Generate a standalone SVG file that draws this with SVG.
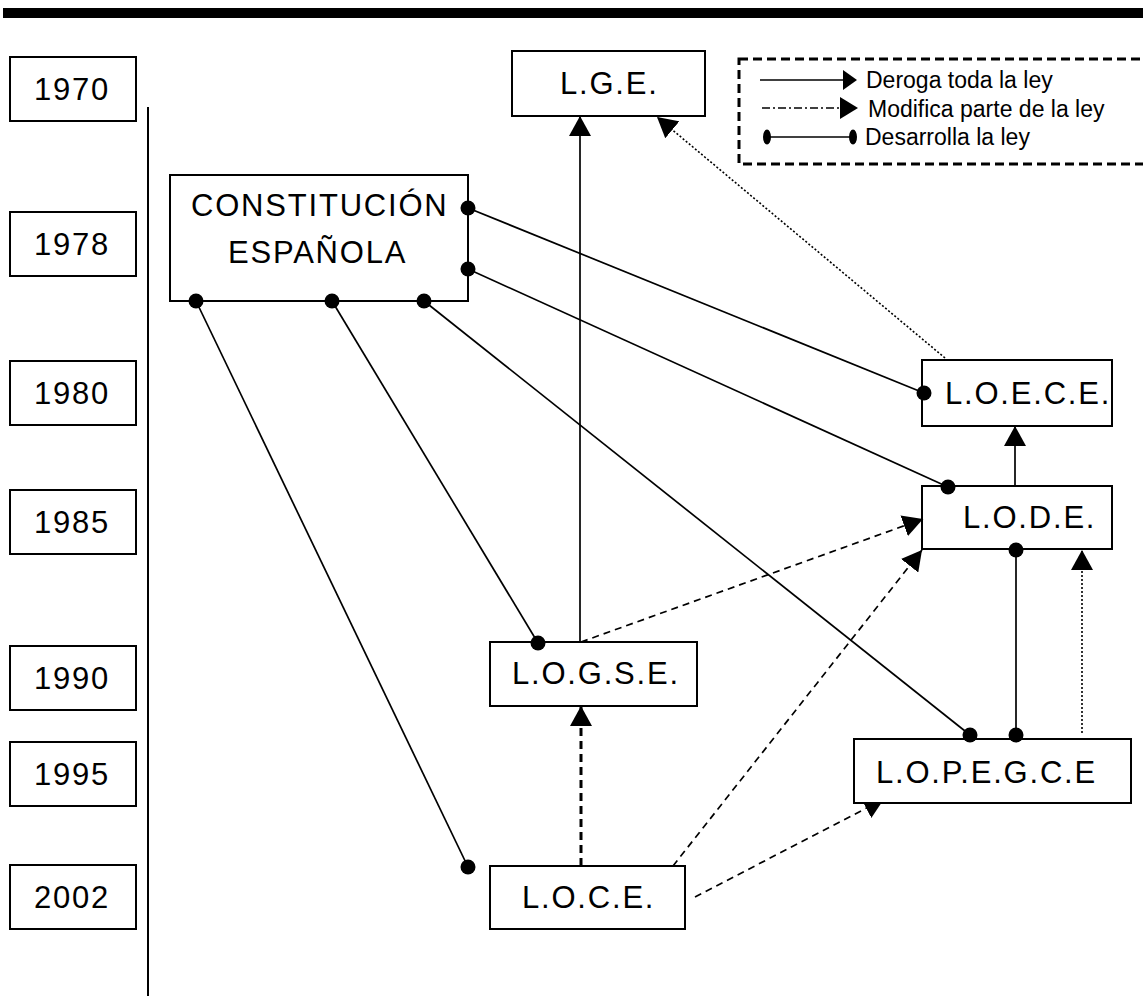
<svg xmlns="http://www.w3.org/2000/svg" width="1143" height="996" viewBox="0 0 1143 996">
<style>
.box{fill:#fff;stroke:#000;stroke-width:2}
.t{font-family:"Liberation Sans",Arial,sans-serif;font-size:31px;letter-spacing:1.8px;fill:#000}
.lg{font-family:"Liberation Sans",Arial,sans-serif;font-size:23px;fill:#000}
.c{fill:none;stroke:#000;stroke-width:1.7}
.dash{stroke-dasharray:7 5}
.dot{stroke-dasharray:2 2;stroke-width:1.6}
.thick{stroke-width:3;stroke-dasharray:8 5}
</style>
<defs>
<marker id="arr" markerUnits="userSpaceOnUse" markerWidth="22" markerHeight="22" refX="20" refY="11" orient="auto" viewBox="0 0 22 22">
<path d="M0,0 L20,11 L0,22 Z" fill="#000" stroke="none"/>
</marker>
<marker id="bul" markerUnits="userSpaceOnUse" markerWidth="16" markerHeight="16" refX="8" refY="8" viewBox="0 0 16 16">
<circle cx="8" cy="8" r="7.5" fill="#000" stroke="none"/>
</marker>
<clipPath id="noLopegce" clipPathUnits="userSpaceOnUse">
<path clip-rule="evenodd" d="M0,0H1143V996H0Z M854,739H1131V803H854Z"/>
</clipPath>
</defs>
<rect x="3" y="8" width="1140" height="10" fill="#000"/>
<line x1="148" y1="107" x2="148" y2="996" stroke="#000" stroke-width="2"/>
<g id="y1970"><rect class="box" x="10" y="57" width="126" height="64"/><text class="t" x="34" y="100">1970</text></g>
<g id="y1978"><rect class="box" x="10" y="212" width="126" height="64"/><text class="t" x="34" y="255">1978</text></g>
<g id="y1980"><rect class="box" x="10" y="361" width="126" height="64"/><text class="t" x="34" y="404">1980</text></g>
<g id="y1985"><rect class="box" x="10" y="490" width="126" height="64"/><text class="t" x="34" y="533">1985</text></g>
<g id="y1990"><rect class="box" x="10" y="646" width="126" height="64"/><text class="t" x="34" y="689">1990</text></g>
<g id="y1995"><rect class="box" x="10" y="742" width="126" height="64"/><text class="t" x="34" y="785">1995</text></g>
<g id="y2002"><rect class="box" x="10" y="865" width="126" height="64"/><text class="t" x="34" y="908">2002</text></g>
<g id="lge"><rect class="box" x="512" y="51" width="193" height="65"/><text class="t" x="560" y="94">L.G.E.</text></g>
<g id="ce"><rect class="box" x="170" y="175" width="298" height="126"/><text class="t" x="191" y="216">CONSTITUCIÓN</text><text class="t" x="228" y="263">ESPAÑOLA</text></g>
<g id="loece"><rect class="box" x="922" y="360" width="190" height="66"/><text class="t" x="945" y="404">L.O.E.C.E.</text></g>
<g id="lode"><rect class="box" x="922" y="486" width="190" height="63"/><text class="t" x="963" y="528">L.O.D.E.</text></g>
<g id="logse"><rect class="box" x="490" y="642" width="207" height="64"/><text class="t" x="512" y="684">L.O.G.S.E.</text></g>
<g id="lopegce"><rect class="box" x="854" y="739" width="277" height="64"/><text class="t" x="876" y="783">L.O.P.E.G.C.E</text></g>
<g id="loce"><rect class="box" x="490" y="866" width="195" height="63"/><text class="t" x="522" y="908">L.O.C.E.</text></g>
<g id="legend">
<rect x="739" y="59" width="430" height="105" fill="none" stroke="#000" stroke-width="3" stroke-dasharray="9 5"/>
<line x1="760" y1="80" x2="845" y2="80" stroke="#000" stroke-width="1.7"/>
<polygon points="843,70 857,80 843,90" fill="#000"/>
<line x1="762" y1="108" x2="842" y2="108" stroke="#000" stroke-width="1.7" stroke-dasharray="8 3 2 3"/>
<polygon points="840,97 858,108 840,119" fill="#000"/>
<line x1="767" y1="137" x2="853" y2="137" stroke="#000" stroke-width="1.7"/>
<ellipse cx="767" cy="137" rx="4" ry="7.5" fill="#000"/>
<ellipse cx="853" cy="137" rx="4" ry="7.5" fill="#000"/>
<text class="lg" x="866" y="88">Deroga toda la ley</text>
<text class="lg" x="868" y="117">Modifica parte de la ley</text>
<text class="lg" x="865" y="145">Desarrolla la ley</text>
</g>
<g id="connectors">
<line class="c" x1="580" y1="642" x2="580" y2="116" marker-end="url(#arr)"/>
<line class="c dot" x1="945" y1="358" x2="657" y2="117" marker-end="url(#arr)"/>
<line class="c" x1="1015" y1="486" x2="1015" y2="426" marker-end="url(#arr)"/>
<line class="c" x1="468" y1="208" x2="924" y2="393" marker-start="url(#bul)" marker-end="url(#bul)"/>
<line class="c" x1="468" y1="269" x2="948" y2="487" marker-start="url(#bul)" marker-end="url(#bul)"/>
<line class="c" x1="196" y1="301" x2="468" y2="867" marker-start="url(#bul)" marker-end="url(#bul)"/>
<line class="c" x1="332" y1="301" x2="538" y2="643" marker-start="url(#bul)" marker-end="url(#bul)"/>
<line class="c" x1="424" y1="301" x2="970" y2="735" marker-start="url(#bul)" marker-end="url(#bul)"/>
<line class="c" x1="1016" y1="550" x2="1016" y2="735" marker-start="url(#bul)" marker-end="url(#bul)"/>
<line class="c dot" x1="1082" y1="733" x2="1082" y2="550" marker-end="url(#arr)"/>
<line class="c dash" x1="581" y1="642" x2="923" y2="519" marker-end="url(#arr)"/>
<line class="c dash" x1="673" y1="866" x2="922" y2="550" marker-end="url(#arr)"/>
<line class="c dash" x1="695" y1="897" x2="884" y2="799" marker-end="url(#arr)" clip-path="url(#noLopegce)"/>
<line class="c thick" x1="581" y1="866" x2="581" y2="706" marker-end="url(#arr)"/>
</g>
</svg>
